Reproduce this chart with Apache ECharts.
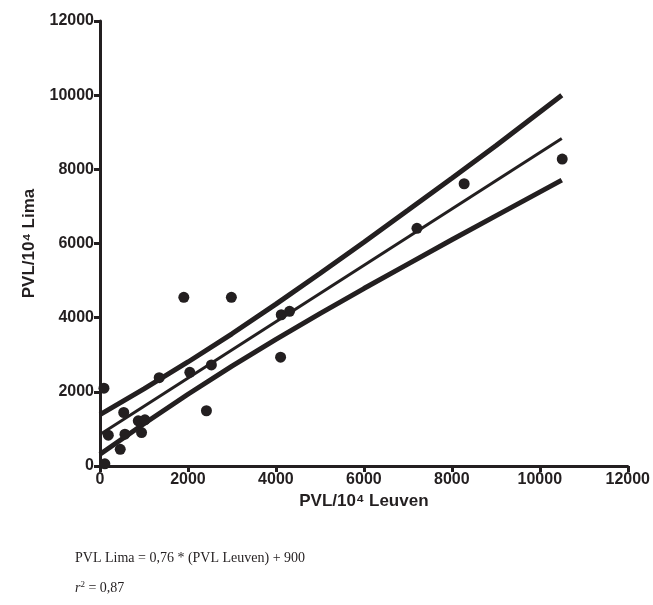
<!DOCTYPE html>
<html><head><meta charset="utf-8">
<script src="https://cdn.jsdelivr.net/npm/echarts@6/dist/echarts.min.js"></script>
<style>html,body{margin:0;padding:0;background:#fff}#c{width:653px;height:605px}</style>
</head><body><div id="c"></div>
<script>
// Observed points (PVL/10^4 Leuven, PVL/10^4 Lima)
const leuven = [90, 110, 189, 460, 540, 567, 945, 870, 1021, 2420, 1346, 1906, 2987, 2042, 2533, 4121, 4310, 4106, 7207, 8280, 10510];
const lima   = [2100, 60, 830, 450, 1443, 857, 902, 1219, 1246, 1490, 2383, 4550, 4550, 2527, 2725, 4079, 4171, 2933, 6409, 7611, 8277];
// Regression line (read endpoints)
const fitX = [0, 10500];
const fitY = [850, 8830];
// 95% confidence band
const bandX     = [0, 1000, 2000, 3000, 4000, 5000, 6000, 7000, 8000, 9000, 10500];
const bandUpper = [1385, 2080, 2805, 3565, 4365, 5190, 6035, 6895, 7760, 8635, 10000];
const bandLower = [315, 1140, 1935, 2695, 3415, 4110, 4785, 5445, 6100, 6745, 7710];
// Axis ticks
const axisMin = 0, axisMax = 12000, axisStep = 2000;
const eqText = 'PVL Lima = 0,76 * (PVL Leuven) + 900';
const r2Value = '0,87';

const ink = '#231f20';
const zip = (a, b) => a.map((v, i) => [v, b[i]]);
const axisCommon = {
  min: axisMin, max: axisMax, interval: axisStep,
  axisLine: {show: true, onZero: false, lineStyle: {color: ink, width: 3}},
  axisTick: {show: true, inside: false, length: 6, lineStyle: {color: ink, width: 3}},
  splitLine: {show: false},
  axisLabel: {color: ink, fontFamily: 'Liberation Sans', fontWeight: 'bold', fontSize: 16, formatter: v => String(v)},
  nameTextStyle: {color: ink, fontFamily: 'Liberation Sans', fontWeight: 'bold', fontSize: 17}
};
const chart = echarts.init(document.getElementById('c'), null, {renderer: 'canvas'});
chart.setOption({
  animation: false,
  backgroundColor: '#fff',
  grid: {left: 100, right: 24, top: 21, bottom: 139, containLabel: false},
  xAxis: Object.assign({}, axisCommon, {
    type: 'value', name: 'PVL/10\u2074 Leuven', nameLocation: 'middle', nameGap: 26,
    axisLabel: Object.assign({}, axisCommon.axisLabel, {margin: 6})
  }),
  yAxis: Object.assign({}, axisCommon, {
    type: 'value', name: 'PVL/10\u2074 Lima', nameLocation: 'middle', nameGap: 62, nameRotate: 90,
    axisLabel: Object.assign({}, axisCommon.axisLabel, {margin: 6})
  }),
  series: [
    {type: 'line', data: zip(bandX, bandUpper), symbol: 'none', lineStyle: {color: ink, width: 5}, z: 2},
    {type: 'line', data: zip(bandX, bandLower), symbol: 'none', lineStyle: {color: ink, width: 5}, z: 2},
    {type: 'line', data: zip(fitX, fitY), symbol: 'none', lineStyle: {color: ink, width: 3}, z: 2},
    {type: 'scatter', data: zip(leuven, lima), symbol: 'circle', symbolSize: 11, itemStyle: {color: ink, opacity: 1}, z: 3}
  ],
  graphic: [
    {type: 'text', left: 75, top: 551, style: {text: eqText, font: '14px "Liberation Serif"', fill: ink}},
    {type: 'text', left: 75, top: 580, style: {
      text: '{i|r}{s|2}{n| = ' + r2Value + '}',
      rich: {
        i: {font: 'italic 14px "Liberation Serif"', fill: ink},
        s: {font: '9px "Liberation Serif"', fill: ink, verticalAlign: 'top', padding: [0, 0, 7, 0]},
        n: {font: '14px "Liberation Serif"', fill: ink}
      }
    }}
  ]
});
</script></body></html>
